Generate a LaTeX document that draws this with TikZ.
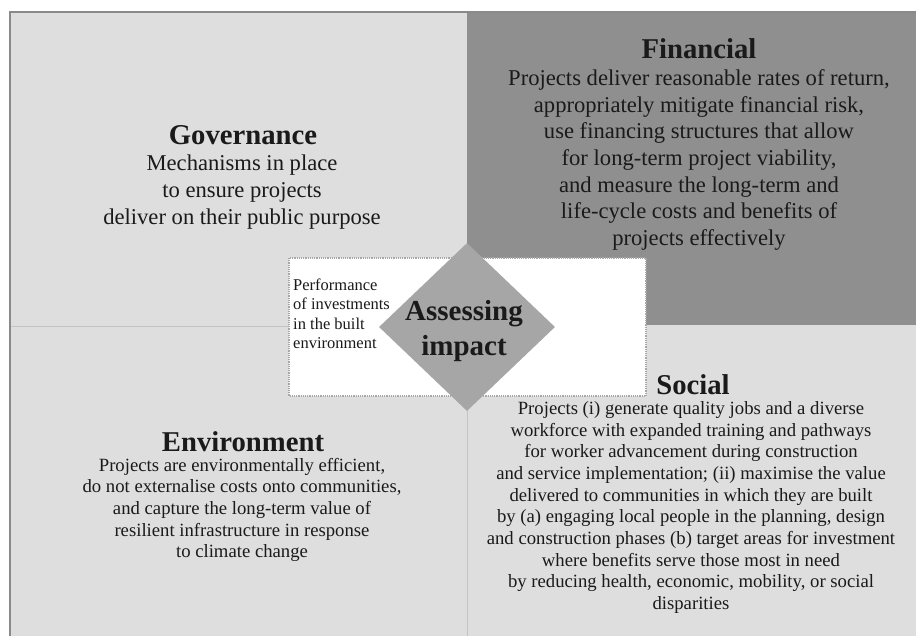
\documentclass[tikz,border=0pt]{standalone}
\usepackage{fontspec}
\setmainfont{Liberation Serif}
\usetikzlibrary{shapes.geometric}
\definecolor{quadlight}{HTML}{DEDEDE}
\definecolor{findark}{HTML}{8F8F8F}
\definecolor{diamgray}{HTML}{A6A6A6}
\definecolor{framegray}{HTML}{8A8A8A}
\definecolor{divgray}{HTML}{C4C4C4}
\definecolor{boxborder}{HTML}{A8A8A8}
\definecolor{inktext}{HTML}{1A1A1A}
\tikzset{
  titletext/.style={font=\fontsize{28.7}{32}\selectfont\bfseries, text=inktext, inner sep=0pt},
  bigbody/.style={font=\fontsize{22.6}{26.7}\selectfont, text=inktext, align=center, inner sep=0pt},
  smallbody/.style={font=\fontsize{18.7}{21.7}\selectfont, text=inktext, align=center, inner sep=0pt},
  notebody/.style={font=\fontsize{16.5}{19.5}\selectfont, text=inktext, align=left, inner sep=0pt},
  hubtext/.style={font=\fontsize{29}{35}\selectfont\bfseries, text=inktext, align=center, inner sep=0pt},
}
\begin{document}
\begin{tikzpicture}[x=1pt,y=-1pt]
\useasboundingbox (0,0) rectangle (916,636);
\fill[white] (0,0) rectangle (916,636);
% quadrants
\fill[quadlight] (10,12) rectangle (916,636);
\fill[findark] (467,12) rectangle (916,325);
\draw[divgray, line width=1pt] (10,327) -- (467,327);
\draw[divgray, line width=1pt] (467,327) -- (467,636);
% frame
\draw[framegray, line width=1.6pt] (10,636) -- (10,12) -- (916,12);
% white box
\fill[white] (289,258) rectangle (646,396);
\draw[boxborder, densely dotted, line width=1.2pt] (289,258) rectangle (646,396);
% hub diamond
\node[diamond, fill=diamgray, minimum width=176pt, minimum height=168pt, inner sep=0pt] (hub) at (467,327) {};
\node[hubtext] (hubtitle) at (464,331) {Assessing\\impact};
\node[notebody, anchor=west] (note) at (293,314) {Performance\\of investments\\in the built\\environment};
% Governance
\node[titletext] (govtitle) at (243,135) {Governance};
\node[bigbody] (govbody) at (242,192) {Mechanisms in place\\to ensure projects\\deliver on their public purpose};
% Financial
\node[titletext] (fintitle) at (699,49) {Financial};
\node[bigbody] (finbody) at (699,160) {Projects deliver reasonable rates of return,\\appropriately mitigate financial risk,\\use financing structures that allow\\for long-term project viability,\\and measure the long-term and\\life-cycle costs and benefits of\\projects effectively};
% Environment
\node[titletext] (envtitle) at (243,442) {Environment};
\node[smallbody] (envbody) at (242,510) {Projects are environmentally efficient,\\do not externalise costs onto communities,\\and capture the long-term value of\\resilient infrastructure in response\\to climate change};
% Social
\node[titletext] (soctitle) at (693,385) {Social};
\node[smallbody] (socbody) at (691,507.5) {Projects (i) generate quality jobs and a diverse\\workforce with expanded training and pathways\\for worker advancement during construction\\and service implementation; (ii) maximise the value\\delivered to communities in which they are built\\by (a) engaging local people in the planning, design\\and construction phases (b) target areas for investment\\where benefits serve those most in need\\by reducing health, economic, mobility, or social\\disparities};
\end{tikzpicture}
\end{document}
